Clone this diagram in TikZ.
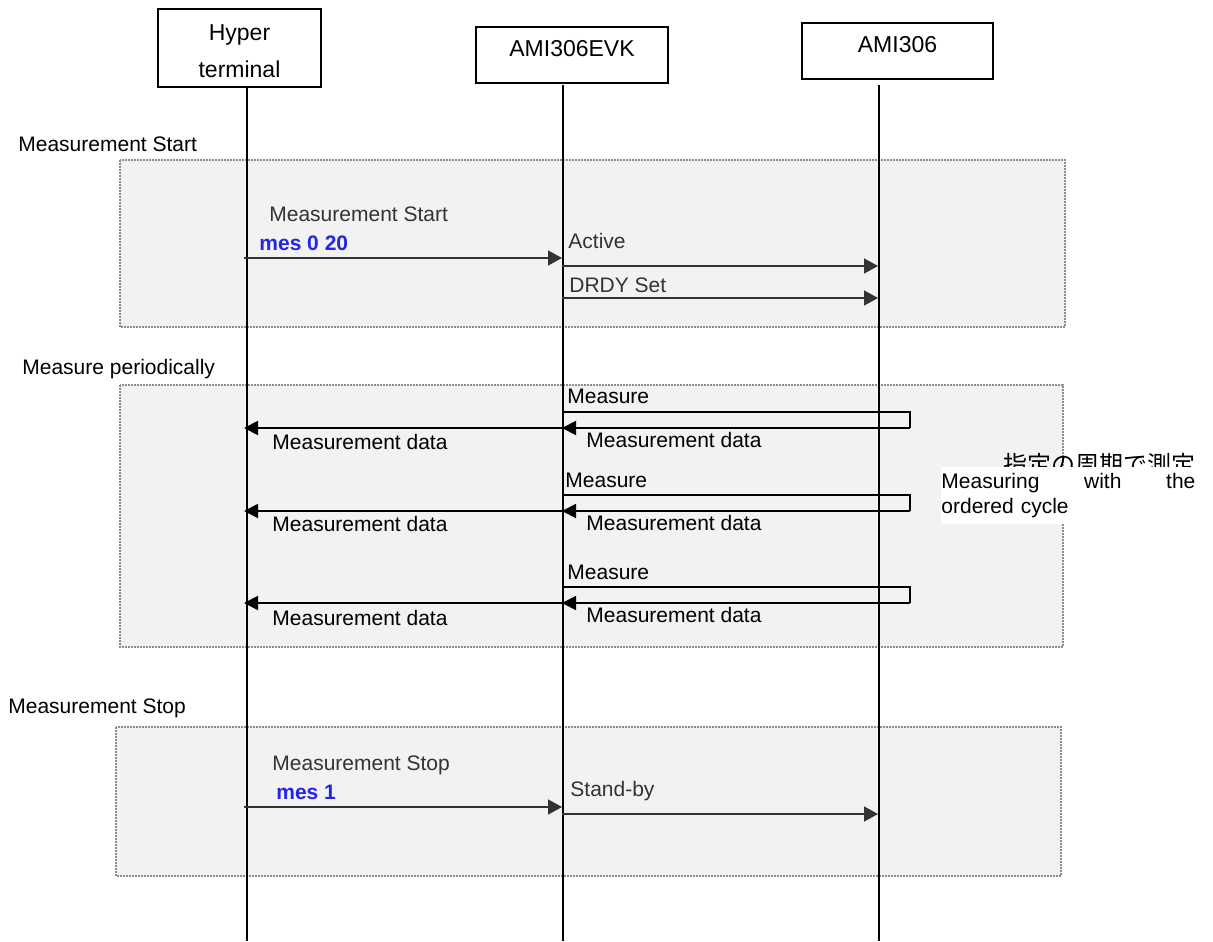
\documentclass[tikz,border=0pt]{standalone}
\usepackage{fontspec}
\setmainfont{Liberation Sans}
\newfontfamily\jpfont{Noto Sans CJK JP}
\usetikzlibrary{positioning,arrows.meta}
\definecolor{cmdblue}{RGB}{36,36,236}
\definecolor{boxgray}{RGB}{242,242,242}
\tikzstyle{obj}=[draw=black,line width=0.7pt,inner sep=0pt,
  font=\fontsize{11.5}{18.5}\selectfont]
\tikzstyle{lbl}=[anchor=base west,inner sep=0pt,font=\fontsize{10.5}{12.5}\selectfont]

\begin{document}
\begin{tikzpicture}[x=0.5pt,y=-0.5pt]
    \tikzstyle{phase}=[draw=black!45,fill=boxgray,line width=0.8pt,
      dash pattern=on 0.8pt off 0.7pt]
    \tikzstyle{life}=[line width=0.65pt]
    \tikzstyle{msg}=[draw=black!80,line width=0.75pt,-{Triangle[length=7pt,width=7.5pt]}]
    \tikzstyle{ask}=[line width=0.6pt]
    \tikzstyle{ans}=[line width=0.95pt,-{Triangle[length=7pt,width=7pt]}]
    \tikzstyle{note}=[lbl,text=black!80]
    \tikzstyle{cmd}=[lbl,text=cmdblue,font=\fontsize{10.5}{12.5}\selectfont\bfseries]
    \useasboundingbox (0,0) rectangle (1213,941);

    % phases
    \draw[phase] (120,160) rectangle (1065,327);
    \draw[phase] (120,385) rectangle (1063,647);
    \draw[phase] (116,727) rectangle (1061,876);
    \node[lbl](phStart) at (18,152){Measurement Start};
    \node[lbl](phCycle) at (22,374){Measure periodically};
    \node[lbl](phStop) at (8,713){Measurement Stop};

    % objects and lifelines
    \node[obj,align=center,minimum width=81.5pt,minimum height=39pt](hyper)
      at (239.5,48){\rule{0pt}{11.5pt}Hyper\\terminal};
    \node[obj,minimum width=96pt,minimum height=28pt,text depth=6.5pt](evk)
      at (572,55){AMI306EVK};
    \node[obj,minimum width=95.5pt,minimum height=28pt,text depth=6.5pt](ami)
      at (897.5,51){AMI306};
    \foreach \o/\x/\t in {hy/247/87,evk/563/85,ami/879/85}{
      \coordinate (\o Top) at (\x,\t);
      \coordinate (\o End) at (\x,941);
      \draw[life] (\o Top) -- (\o End);
    }
    %
    \foreach \r/\y in {start/258,act/266,drdy/298,ask1/412,ans1/428,
        ask2/495,ans2/511,ask3/587,ans3/603,stop/807,stby/814}{
      \coordinate (hy-\r) at (244,\y);
      \coordinate (evk-\r) at (562,\y);
      \coordinate (ami-\r) at (878,\y);
      \coordinate (far-\r) at (910,\y);
    }

    % start
    \node[note](lStart) at (269,221){Measurement Start};
    \node[cmd](cStart) at (259,250){mes 0 20};
    \node[note](lAct) at (568,248){Active};
    \node[note](lDrdy) at (569,292){DRDY Set};
    \draw[msg] (hy-start) -- (evk-start);
    \draw[msg] (evk-act) -- (ami-act);
    \draw[msg] (evk-drdy) -- (ami-drdy);

    % periodic
    \foreach \i/\mx/\my/\dy/\ry in {1/567/403/449/447,2/565/487/531/530,3/567/579/625/622}{
      \node[lbl](lAsk\i) at (\mx,\my){Measure};
      \node[lbl](lAnsR\i) at (586,\ry){Measurement data};
      \node[lbl](lAnsL\i) at (272,\dy){Measurement data};
      \draw[ask] (evk-ask\i) -- (far-ask\i) -- (far-ans\i);
      \draw[ans] (far-ans\i) -- (evk-ans\i);
      \draw[ans] (evk-ans\i) -- (hy-ans\i);
    }
    \node[anchor=base west,inner sep=0pt,font=\jpfont\fontsize{12}{14}\selectfont](cycJp)
      at (1003,473){指定の周期で測定};
    \node[anchor=north west,fill=white,inner sep=0pt,text width=134.5pt,
      minimum height=28.5pt,align=left,font=\fontsize{10.5}{12.5}\selectfont](cycEn)
      at (941,467){\hbox to 127pt{Measuring\hfill with\hfill the}\\ordered cycle};

    % stop
    \node[note](lStop) at (272,770){Measurement Stop};
    \node[cmd](cStop) at (276,799){mes 1};
    \node[note](lStby) at (570,796){Stand-by};
    \draw[msg] (hy-stop) -- (evk-stop);
    \draw[msg] (evk-stby) -- (ami-stby);
\end{tikzpicture}
\end{document}
